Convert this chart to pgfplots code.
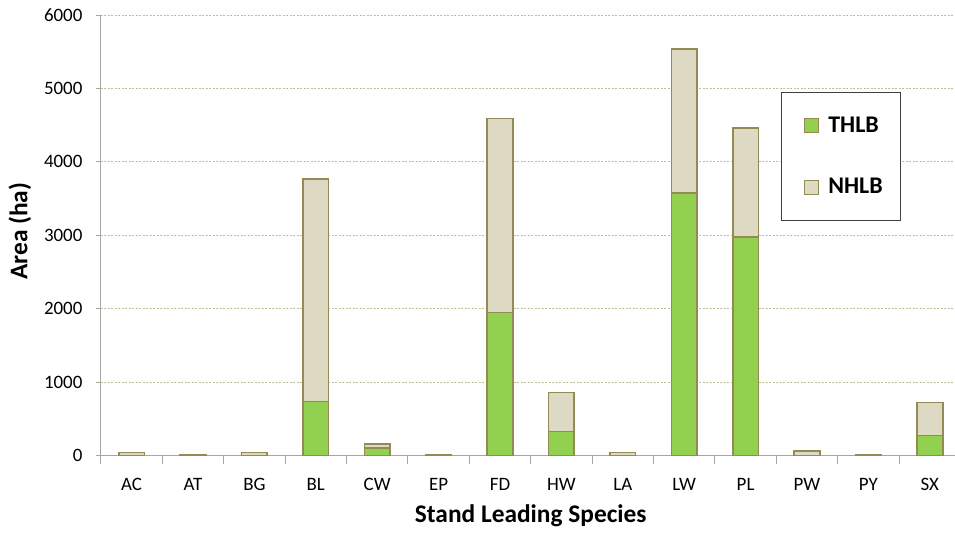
\documentclass[border=0pt]{standalone}
\usepackage{fontspec}
\setmainfont{Carlito}
\usepackage{pgfplots}
\pgfplotsset{compat=1.18}
\definecolor{thlb}{HTML}{92D050}
\definecolor{nhlb}{HTML}{DDD9C3}
\definecolor{edge}{HTML}{948A54}
\definecolor{gridc}{HTML}{C4BD97}
\definecolor{axc}{HTML}{A6A6A6}
\begin{document}
\begin{tikzpicture}
\begin{axis}[
  at={(0bp,0bp)}, anchor=south west, scale only axis,
  width=859.6bp, height=440.5bp,
  ybar stacked, bar width=0.42,
  xmin=-0.5, xmax=13.5, ymin=0, ymax=6000,
  xtick={0,...,13},
  xticklabels={AC,AT,BG,BL,CW,EP,FD,HW,LA,LW,PL,PW,PY,SX},
  minor xtick={-0.5,0.5,...,12.5},
  ytick={0,1000,...,6000},
  /pgf/number format/assume math mode=true,
  /pgf/number format/1000 sep={},
  axis x line*=bottom, axis y line*=left,
  axis line style={draw=axc, line width=0.9bp, -},
  tick align=outside,
  major x tick style={draw=none},
  minor x tick style={draw=axc, line width=0.9bp},
  minor tick length=8bp,
  major y tick style={draw=axc, line width=0.9bp},
  major tick length=5bp,
  ymajorgrids,
  grid style={draw=gridc, line width=0.8bp, dash pattern=on 2bp off 1.5bp},
  tick label style={font=\fontsize{19}{22}\selectfont, text=black},
  xticklabel style={anchor=base, yshift=-30bp},
  yticklabel style={anchor=east, xshift=-10bp},
  xlabel={Stand Leading Species},
  ylabel={Area (ha)},
  label style={font=\fontsize{25.5}{27}\selectfont\bfseries},
  xlabel style={at={(axis description cs:0.5,0)}, anchor=base, yshift=-66.5bp},
  ylabel style={at={(axis description cs:0,0.5)}, anchor=center, yshift=81bp, xshift=4bp},
  legend style={at={(0.791,0.825)}, anchor=north west, draw=black!75, line width=0.8bp,
    font=\fontsize{24}{26}\selectfont\bfseries, inner xsep=15.5bp, inner ysep=22.5bp,
    row sep=40.5bp, cells={anchor=west}},
  legend image code/.code={\path (0bp,0bp); \draw[#1, line width=0.8bp] (7bp,-7bp) rectangle (21bp,7bp); \path (28bp,0bp);},
]
\addplot[fill=thlb, draw=edge, line width=1.6bp] coordinates {
 (0,0) (1,0) (2,0) (3,735) (4,105) (5,0) (6,1950) (7,327) (8,0) (9,3578) (10,2980) (11,0) (12,0) (13,272)};
\addplot[fill=nhlb, draw=edge, line width=1.6bp] coordinates {
 (0,40) (1,5) (2,40) (3,3034) (4,50) (5,5) (6,2640) (7,530) (8,40) (9,1959) (10,1483) (11,58) (12,5) (13,449)};
\legend{THLB,NHLB}
\end{axis}
\pgfresetboundingbox
\path[use as bounding box] (-100.9bp,-77.5bp) rectangle (854.1bp,455.5bp);
\end{tikzpicture}
\end{document}
